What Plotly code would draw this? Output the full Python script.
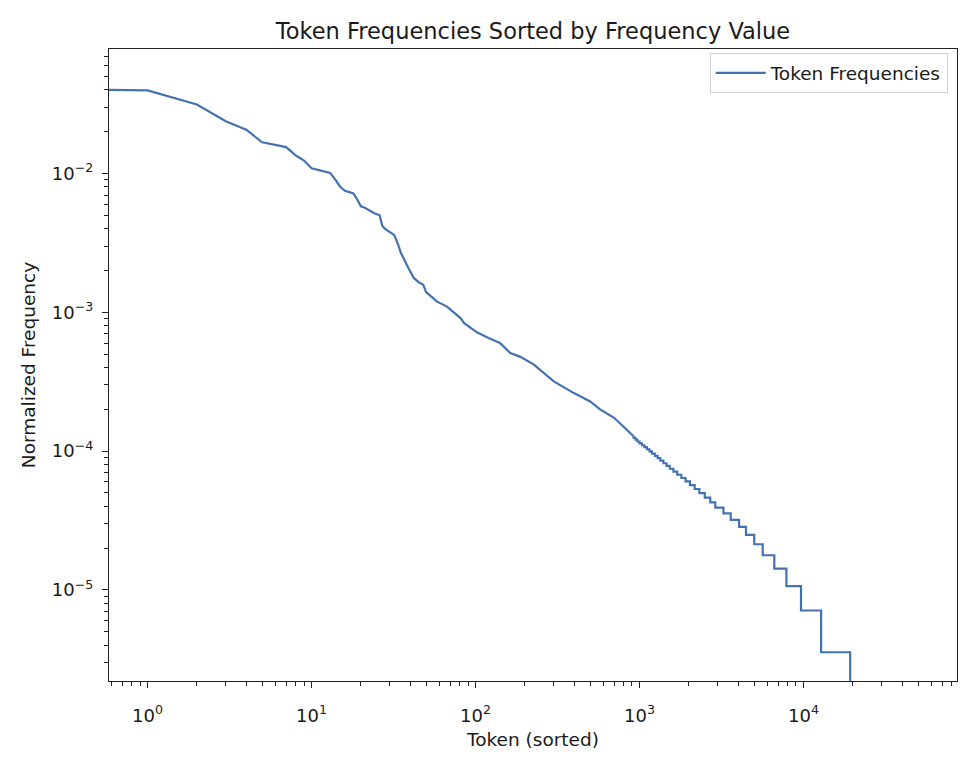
import math
import plotly.graph_objects as go

# ---------------- data ----------------
TOTAL_TOKENS = 281000          # one occurrence -> 3.56e-6
VOCAB_SIZE = 50257             # x runs over all token ids (0 .. 50256)
TOP_FREQ = 0.049               # rank 0 (not drawable on a log axis, sits left of the frame)

HEAD_RANKS = [1, 2, 3, 4, 5, 6, 7, 8, 9, 10, 11, 12, 13, 14, 15, 16, 17, 18, 19, 20,
              21, 22, 23, 24, 26, 27, 28, 30, 32, 34, 35, 38, 42, 45, 48, 50, 58, 67,
              70, 81, 85, 102, 120, 141, 163, 188, 227, 300, 398, 500, 575, 700, 920]
HEAD_FREQ = [0.0397, 0.0314, 0.0238, 0.0207, 0.0168, 0.0161, 0.0155, 0.0135, 0.0124,
             0.0109, 0.0106, 0.0104, 0.0101, 0.0090, 0.0080, 0.0075, 0.0073, 0.0072,
             0.0065, 0.0058, 0.0057, 0.0055, 0.0053, 0.0052, 0.0050, 0.0042, 0.0040,
             0.0038, 0.0036, 0.0030, 0.0027, 0.00221, 0.00177, 0.00165, 0.00158,
             0.00140, 0.00120, 0.00110, 0.00105, 0.00091, 0.00084, 0.000718, 0.000653,
             0.000602, 0.00051, 0.000478, 0.00042, 0.000318, 0.000262, 0.000228,
             0.000200, 0.000174, 0.000128]

# tail: raw counts and the last rank that still has that count
TAIL_COUNTS = [35, 34, 33, 32, 31, 30, 29, 28, 27, 26, 25, 24, 23, 22, 21, 20, 19, 18,
               17, 16, 15, 14, 13, 12, 11, 10, 9, 8, 7, 6, 5, 4, 3, 2, 1]
TAIL_LAST_RANK = [945, 970, 1000, 1035, 1070, 1110, 1150, 1190, 1240, 1290, 1340, 1400,
                  1460, 1530, 1610, 1700, 1800, 1910, 2030, 2170, 2320, 2500, 2700, 2900,
                  3250, 3600, 4050, 4460, 5010, 5640, 6640, 7870, 9660, 12810, 19270]

RANK0_STANDIN = 1e-6   # log axis cannot show rank 0
ZERO_STANDIN = 1e-12   # log axis cannot show zero frequency

# ---------------- build the series ----------------
xs = [RANK0_STANDIN] + HEAD_RANKS
ys = [TOP_FREQ] + HEAD_FREQ
prev = HEAD_RANKS[-1]
for c, last in zip(TAIL_COUNTS, TAIL_LAST_RANK):
    xs += [prev + 1, last]
    ys += [c / TOTAL_TOKENS] * 2
    prev = last
xs += [prev + 1, VOCAB_SIZE - 1]
ys += [ZERO_STANDIN] * 2

# matplotlib-like autoscale with 5% margins in log space
lx_hi = math.log10(VOCAB_SIZE - 1)
x_range = [-0.05 * lx_hi, 1.05 * lx_hi]
ly_lo = math.log10(1 / TOTAL_TOKENS)
ly_hi = math.log10(TOP_FREQ)
R = ly_hi - ly_lo
y_range = [ly_lo - 0.05 * R, ly_hi + 0.05 * R]

x_major = [1, 10, 100, 1000, 10000]
x_major_text = ["10<sup>%d</sup>" % e for e in range(0, 5)]
x_minor = [m * 10 ** e for e in range(-1, 5) for m in range(2, 10)]
y_major = [1e-5, 1e-4, 1e-3, 1e-2]
y_major_text = ["10<sup>\u2212%d</sup>" % e for e in (5, 4, 3, 2)]
y_minor = [m * 10.0 ** e for e in range(-6, -1) for m in range(2, 10)]

LINE_COLOR = "#4472B0"
FONT = "DejaVu Sans"
TEXT_COLOR = "#1a1a1a"

fig = go.Figure()
fig.add_trace(go.Scatter(x=xs, y=ys, mode="lines", name="Token Frequencies",
                         line=dict(color=LINE_COLOR, width=2.2)))

axis_common = dict(showgrid=False, zeroline=False, showline=True, linecolor="#222222",
                   linewidth=1.2, mirror=True, ticks="outside", ticklen=6, tickwidth=1.2,
                   tickcolor="#222222", tickfont=dict(family=FONT, size=18, color=TEXT_COLOR),
                   automargin=False)

fig.update_xaxes(type="log", range=x_range, tickmode="array", tickvals=x_major,
                 ticktext=x_major_text, ticklabelstandoff=12,
                 minor=dict(tickmode="array", tickvals=x_minor, ticks="outside", ticklen=3.5,
                            tickwidth=1, tickcolor="#222222"),
                 title=dict(text="Token (sorted)", font=dict(family=FONT, size=18.5, color=TEXT_COLOR),
                            standoff=8),
                 **axis_common)
fig.update_yaxes(type="log", range=y_range, tickmode="array", tickvals=y_major,
                 ticktext=y_major_text, ticklabelstandoff=5,
                 minor=dict(tickmode="array", tickvals=y_minor, ticks="outside", ticklen=3.5,
                            tickwidth=1, tickcolor="#222222"),
                 title=dict(text="Normalized Frequency", font=dict(family=FONT, size=18.5, color=TEXT_COLOR),
                            standoff=11),
                 **axis_common)

# the page adds an 8px body margin, so the figure is 16px smaller than the window
fig.update_layout(
    width=960, height=742,
    margin=dict(l=101, r=11, t=41, b=69, autoexpand=False),
    paper_bgcolor="white", plot_bgcolor="white",
    font=dict(family=FONT, size=18, color=TEXT_COLOR),
    title=dict(text="Token Frequencies Sorted by Frequency Value", x=0.5, xref="paper",
               xanchor="center", y=1, yref="paper", yanchor="bottom", pad=dict(b=10),
               automargin=False, font=dict(family=FONT, size=22.5, color=TEXT_COLOR)),
    showlegend=True,
    legend=dict(x=0.989, y=0.993, xanchor="right", yanchor="top", bgcolor="white",
                bordercolor="#d0d0d0", borderwidth=1, itemwidth=50,
                font=dict(family=FONT, size=18.5)),
)

fig.write_html("out.html")
